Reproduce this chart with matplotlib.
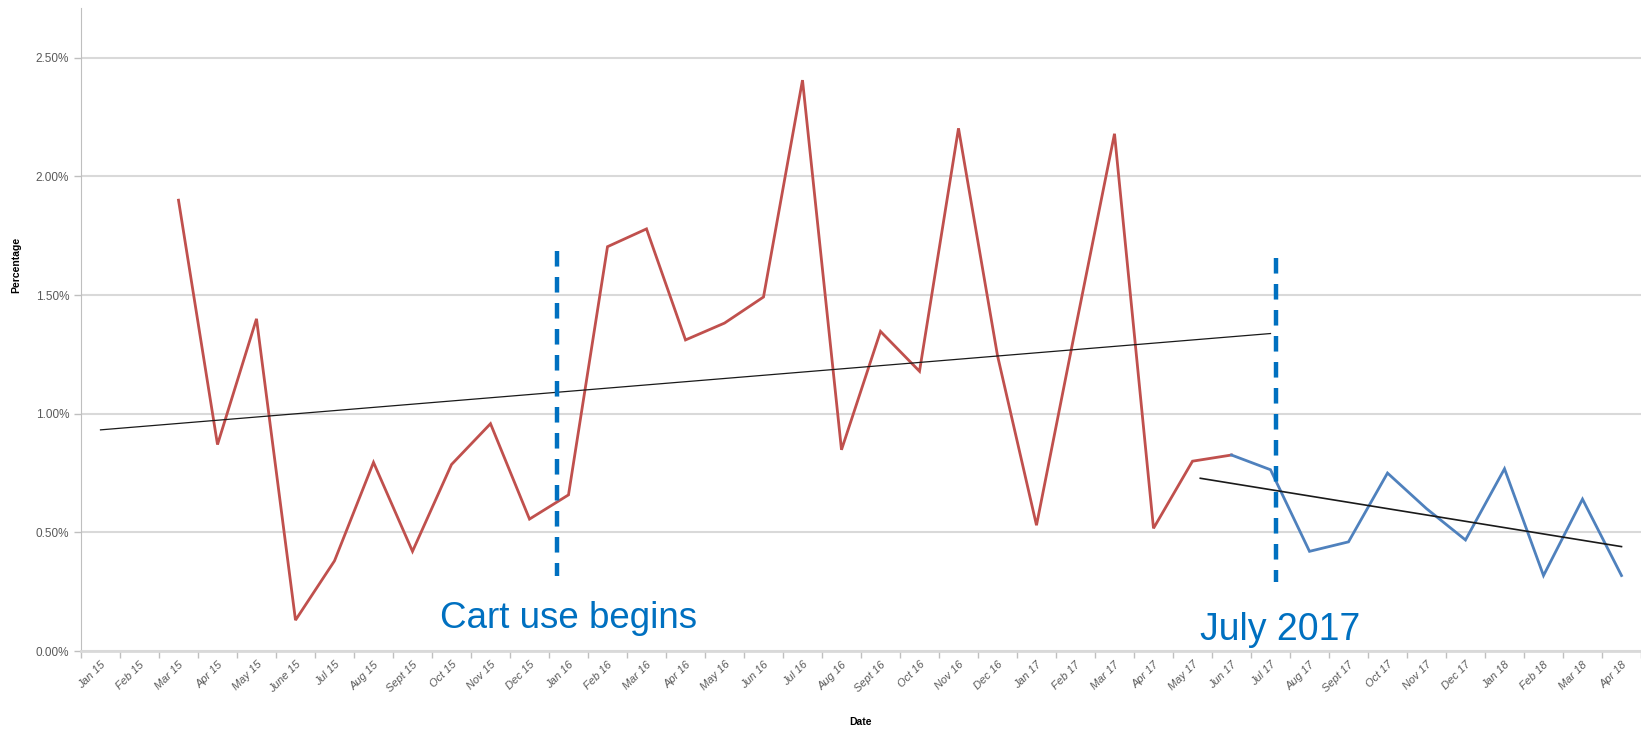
import matplotlib
matplotlib.use("Agg")
import matplotlib.pyplot as plt
import numpy as np

months = ["Jan 15", "Feb 15", "Mar 15", "Apr 15", "May 15", "June 15", "Jul 15", "Aug 15",
          "Sept 15", "Oct 15", "Nov 15", "Dec 15", "Jan 16", "Feb 16", "Mar 16", "Apr 16",
          "May 16", "Jun 16", "Jul 16", "Aug 16", "Sept 16", "Oct 16", "Nov 16", "Dec 16",
          "Jan 17", "Feb 17", "Mar 17", "Apr 17", "May 17", "Jun 17", "Jul 17", "Aug 17",
          "Sept 17", "Oct 17", "Nov 17", "Dec 17", "Jan 18", "Feb 18", "Mar 18", "Apr 18"]

# percentages; None = no value
before_values = [None, None, 1.90, 0.87, 1.40, 0.13, 0.38, 0.795, 0.42, 0.786, 0.958, 0.556,
                 0.658, 1.704, 1.779, 1.311, 1.382, 1.492, 2.406, 0.848, 1.347, 1.179, 2.203,
                 1.245, 0.53, 1.36, 2.18, 0.517, 0.80, 0.826]
after_months = ["Jun 17", "Jul 17", "Aug 17", "Sept 17", "Oct 17", "Nov 17", "Dec 17",
                "Jan 18", "Feb 18", "Mar 18", "Apr 18"]
after_values = [0.826, 0.764, 0.42, 0.46, 0.75, 0.60, 0.468, 0.768, 0.318, 0.64, 0.318]

# trend lines (position in month index, value in %)
trend1_pos = [0, 30]
trend1_vals = [0.932, 1.338]
trend2_pos = [28.2, 39]
trend2_vals = [0.728, 0.44]

# annotations
cart_pos = 11.7
cart_range = [0.318, 1.687]
july_pos = 30.14
july_range = [0.29, 1.656]

RED = "#C0504D"
BLUE = "#4F81BD"
ANN = "#0070C0"

fig = plt.figure(figsize=(16.41, 7.29), dpi=100)
ax = fig.add_axes([81 / 1641, 78 / 729, 1 - 81 / 1641, (651 - 8) / 729])

x = np.arange(len(months))
bx = np.arange(len(before_values))
bv = np.array([np.nan if v is None else v for v in before_values], dtype=float)
ax.plot(bx, bv, color=RED, lw=2.0, solid_joinstyle="miter", zorder=3)
ax_idx = [months.index(m) for m in after_months]
ax.plot(ax_idx, after_values, color=BLUE, lw=2.0, solid_joinstyle="miter", zorder=3)

ax.plot(trend1_pos, trend1_vals, color="#1a1a1a", lw=0.9, zorder=4)
ax.plot(trend2_pos, trend2_vals, color="#1a1a1a", lw=1.2, zorder=4)

for pos, rng in [(cart_pos, cart_range), (july_pos, july_range)]:
    ax.plot([pos, pos], [rng[1], rng[0]], color=ANN, lw=3.2,
            linestyle=(0, (3.5, 2.35)), zorder=5)

ax.text(8.7, 0.135, "Cart use begins", color=ANN, fontsize=26.5, family="Liberation Sans",
        va="center", ha="left")
ax.text(28.2, 0.09, "July 2017", color=ANN, fontsize=27, family="Liberation Sans",
        va="center", ha="left")

ax.set_xlim(-0.5, len(months) - 0.5)
ax.set_ylim(0, 2.71)
yt = [0, 0.5, 1.0, 1.5, 2.0, 2.5]
ax.set_yticks(yt)
ax.set_yticklabels([f"{v:.2f}%" for v in yt], fontsize=8.5, color="#595959",
                   family="Liberation Sans")
ax.yaxis.grid(True, color="#D9D9D9", lw=1.5)
ax.set_axisbelow(True)

ax.set_xticks(x)
ax.set_xticklabels(months, rotation=45, ha="right", rotation_mode="anchor",
                   fontsize=8, color="#595959", family="Liberation Sans", style="italic")
ax.set_xticks(np.arange(-0.5, len(months)), minor=True)
ax.tick_params(axis="x", which="major", length=0, pad=6)
ax.tick_params(axis="x", which="minor", length=5, color="#BFBFBF", width=1)
ax.tick_params(axis="y", length=5, color="#BFBFBF", width=1)

for s in ["top", "right"]:
    ax.spines[s].set_visible(False)
ax.spines["left"].set_color("#BFBFBF")
ax.spines["bottom"].set_color("#D9D9D9")
ax.spines["bottom"].set_linewidth(2)

fig.text(16 / 1641, 1 - 265 / 729, "Percentage", rotation=90, fontsize=7.5, fontweight="bold",
         family="Liberation Sans", ha="center", va="center")
fig.text(861 / 1641, 1 - 722 / 729, "Date", fontsize=7.5, fontweight="bold",
         family="Liberation Sans", ha="center", va="center")

fig.savefig("out.png", dpi=100)
